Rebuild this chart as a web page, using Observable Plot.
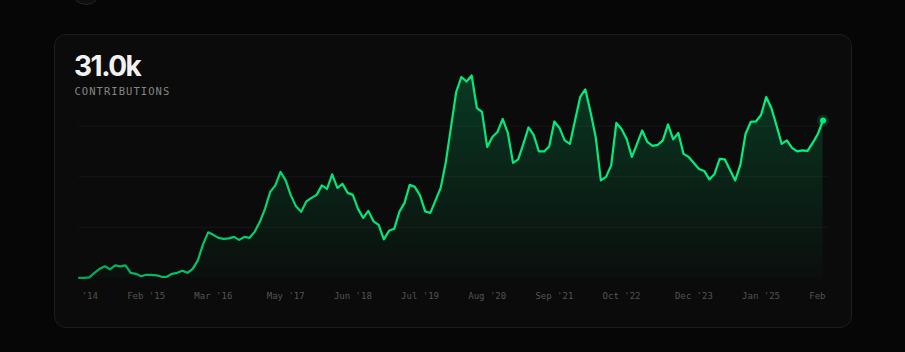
<!DOCTYPE html>
<html>
<head>
<meta charset="utf-8">
<script src="https://cdn.jsdelivr.net/npm/d3@7"></script>
<script src="https://cdn.jsdelivr.net/npm/@observablehq/plot@0.6"></script>
<style>
  html, body { margin: 0; padding: 0; background: #060606; width: 905px; height: 352px; overflow: hidden; }
  body { position: relative; }
  #avatar { position: absolute; left: 71px; top: -25px; width: 28px; height: 28px; border-radius: 50%; background: #0e0e0e; border: 1px solid #272727; }
  #card { position: absolute; left: 54px; top: 34px; width: 796px; height: 292px; border: 1px solid #1d1d1d; border-radius: 12px; background: #0b0b0b; }
  #total { position: absolute; left: 74px; top: 51.5px; font: 700 28px/28px Inter, "Noto Sans", sans-serif; letter-spacing: -1.5px; color: #f2f2f2; white-space: nowrap; }
  #label { position: absolute; left: 74.5px; top: 86px; font: 400 10.5px/10.5px "DejaVu Sans Mono", monospace; letter-spacing: 1.05px; color: #858585; white-space: nowrap; }
  #chart { position: absolute; left: 0; top: 0; }
</style>
</head>
<body>
<div id="avatar"></div>
<div id="card"></div>
<div id="total">31.0k</div>
<div id="label">CONTRIBUTIONS</div>
<div id="chart"></div>
<script>
// Monthly contributions, Jan 2014 .. Jan 2026
const contributions = [
  0, 0, 1, 10, 18, 23, 17, 25, 23, 25,
  10, 8, 3, 6, 6, 5, 2, 2, 8, 10,
  14, 10, 18, 35, 67, 91, 86, 80, 78, 79,
  82, 76, 82, 80, 92, 112, 138, 172, 185, 212,
  195, 165, 143, 132, 153, 160, 166, 185, 178, 207,
  180, 188, 170, 166, 138, 120, 134, 113, 106, 77,
  94, 98, 132, 150, 186, 182, 165, 133, 130, 155,
  180, 232, 302, 372, 402, 393, 405, 340, 332, 262,
  282, 292, 318, 290, 230, 237, 268, 301, 286, 253,
  253, 263, 313, 300, 275, 268, 315, 362, 377, 332,
  282, 195, 202, 225, 310, 298, 278, 242, 268, 295,
  272, 264, 266, 275, 307, 277, 290, 248, 242, 230,
  218, 214, 197, 208, 238, 237, 216, 195, 226, 288,
  312, 313, 326, 362, 340, 305, 268, 275, 260, 253,
  255, 254, 270, 288, 315
];
const tickMonthIndex = [0, 13, 26, 40, 53, 66, 79, 92, 105, 119, 132, 145];
const tickLabels = ["Jan '14", "Feb '15", "Mar '16", "May '17", "Jun '18", "Jul '19", "Aug '20", "Sep '21", "Oct '22", "Dec '23", "Jan '25", "Feb '26"];
const monthCount = 145;

const data = contributions.map((v, i) => ({ i, v }));
const last = data[data.length - 1];
const maxV = d3.max(contributions);
const green = "#00f080";

const defsMark = () => {
  const defs = d3.create("svg:defs");
  const lg = defs.append("linearGradient").attr("id", "lineGrad").attr("x1", 0).attr("x2", 1).attr("y1", 0).attr("y2", 0);
  lg.append("stop").attr("offset", "0%").attr("stop-color", green).attr("stop-opacity", 0.68);
  lg.append("stop").attr("offset", "35%").attr("stop-color", green).attr("stop-opacity", 0.95);
  lg.append("stop").attr("offset", "100%").attr("stop-color", green).attr("stop-opacity", 1);
  const ag = defs.append("linearGradient").attr("id", "areaGrad").attr("x1", 0).attr("x2", 0).attr("y1", 0).attr("y2", 1);
  ag.append("stop").attr("offset", "0%").attr("stop-color", green).attr("stop-opacity", 0.2);
  ag.append("stop").attr("offset", "100%").attr("stop-color", green).attr("stop-opacity", 0.015);
  defs.append("clipPath").attr("id", "tickClip").append("rect")
    .attr("x", 78).attr("y", 0).attr("width", 750).attr("height", 352);
  return defs.node();
};

const chart = Plot.plot({
  width: 905,
  height: 352,
  marginLeft: 78.5,
  marginRight: 77.3,
  marginTop: 75,
  marginBottom: 74.7,
  style: { background: "transparent", color: "#545454", overflow: "visible" },
  x: { domain: [0, monthCount], axis: null },
  y: { domain: [0, maxV], axis: null },
  marks: [
    defsMark,
    Plot.ruleY([maxV / 4, maxV / 2, (3 * maxV) / 4], { stroke: "#171717", strokeWidth: 1 }),
    Plot.areaY(data, { x: "i", y: "v", fill: "url(#areaGrad)" }),
    Plot.lineY(data, { x: "i", y: "v", stroke: "url(#lineGrad)", strokeWidth: 2.2, strokeLinejoin: "round", strokeLinecap: "round" }),
    Plot.dot([last], { x: "i", y: "v", r: 6, fill: green, fillOpacity: 0.14, stroke: "none" }),
    Plot.dot([last], { x: "i", y: "v", r: 3, fill: green, stroke: "none" }),
    Plot.axisX({
      ticks: tickMonthIndex,
      tickFormat: (d) => tickLabels[tickMonthIndex.indexOf(d)],
      tickSize: 0,
      tickPadding: 15,
      fontFamily: "DejaVu Sans Mono",
      fontSize: 9,
      label: null
    })
  ]
});

chart.querySelectorAll('g[aria-label="x-axis tick label"]').forEach((g) => g.setAttribute("clip-path", "url(#tickClip)"));
document.getElementById("chart").appendChild(chart);
</script>
</body>
</html>
